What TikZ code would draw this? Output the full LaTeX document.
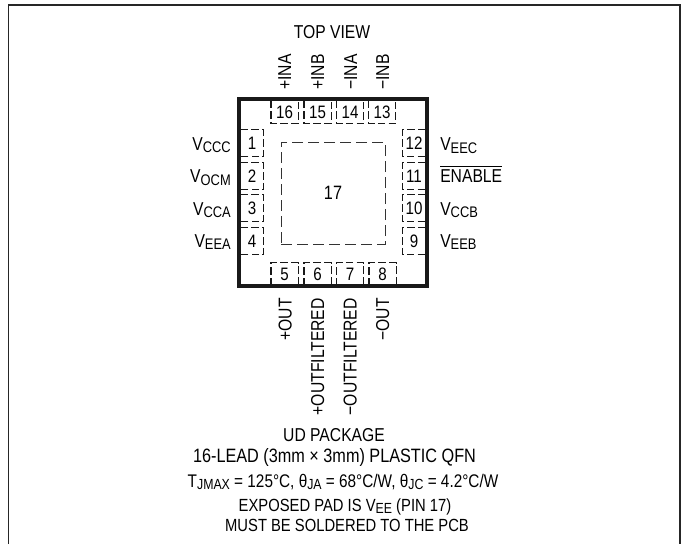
\documentclass[tikz,border=0pt]{standalone}
\usepackage{fontspec}
\setmainfont[FakeStretch=0.84]{Liberation Sans}
\newcommand{\lowsub}[1]{\raisebox{-2.2pt}{\fontsize{11.5}{11.5}\selectfont #1}}
\newcommand{\lowsubs}[1]{\raisebox{-2pt}{\fontsize{11}{11}\selectfont #1}}
\tikzset{
  pkgbox/.style={draw=black!90,line width=3pt,minimum width=141pt,minimum height=140pt,inner sep=0pt},
  padbox/.style={draw=black!80,line width=0.75pt,dash pattern=on 8.5pt off 3.5pt,minimum width=78pt,minimum height=76.5pt,inner sep=0pt,font=\fontsize{14.5}{14.5}\selectfont},
  pinv/.style={minimum width=20pt,minimum height=16.5pt,inner sep=0pt,font=\fontsize{13.5}{13.5}\selectfont},
  pinh/.style={minimum width=16.5pt,minimum height=19.5pt,inner sep=0pt,font=\fontsize{13.5}{13.5}\selectfont},
  pinedge/.style={draw=black!90,line width=0.9pt,dash pattern=on 5.5pt off 2.5pt},
  lblup/.style={rotate=90,anchor=base west,inner sep=0pt,font=\fontsize{14}{14}\selectfont},
  lbldown/.style={rotate=90,anchor=base east,inner sep=0pt,font=\fontsize{14}{14}\selectfont},
  lblleft/.style={anchor=base east,inner sep=0pt,font=\fontsize{14}{14}\selectfont},
  lblright/.style={anchor=base west,inner sep=0pt,font=\fontsize{14}{14}\selectfont},
  capbig/.style={anchor=base,inner sep=0pt,font=\fontsize{14}{14}\selectfont},
  capsmall/.style={anchor=base,inner sep=0pt,font=\fontsize{13.2}{13.2}\selectfont},
}
\begin{document}
\begin{tikzpicture}[x=0.75pt,y=-0.75pt]
  \useasboundingbox (0,0) rectangle (684,544);
  \draw[black!85,line width=1.2pt] (8.5,544) -- (8.5,5) -- (680,5) -- (680,544);

  \node[pkgbox] (pkg) at (333,192.75) {};
  \node[padbox] (pad) at (333,193) {17};

  % top row
  \node[pinv] (p16) at (284.5,112) {16};
  \node[pinv] (p15) at (317.5,112) {15};
  \node[pinv] (p14) at (350,112) {14};
  \node[pinv] (p13) at (382,112) {13};
  % left column
  \node[pinh] (p1) at (252,143) {1};
  \node[pinh] (p2) at (252,176) {2};
  \node[pinh] (p3) at (252,208) {3};
  \node[pinh] (p4) at (252,241) {4};
  % right column
  \node[pinh] (p12) at (414,143) {12};
  \node[pinh] (p11) at (414,176) {11};
  \node[pinh] (p10) at (414,208) {10};
  \node[pinh] (p9) at (414,241) {9};
  % bottom row
  \node[pinv] (p5) at (284.5,274) {5};
  \node[pinv] (p6) at (317.5,274) {6};
  \node[pinv] (p7) at (350,274) {7};
  \node[pinv] (p8) at (382.5,274) {8};

  \draw[pinedge] (p16.north west) -- (p16.south west) -- (p16.south east) -- (p16.north east);
  \draw[pinedge] (p15.north west) -- (p15.south west) -- (p15.south east) -- (p15.north east);
  \draw[pinedge] (p14.north west) -- (p14.south west) -- (p14.south east) -- (p14.north east);
  \draw[pinedge] (p13.north west) -- (p13.south west) -- (p13.south east) -- (p13.north east);
  \draw[pinedge] (p1.north west) -- (p1.north east) -- (p1.south east) -- (p1.south west);
  \draw[pinedge] (p2.north west) -- (p2.north east) -- (p2.south east) -- (p2.south west);
  \draw[pinedge] (p3.north west) -- (p3.north east) -- (p3.south east) -- (p3.south west);
  \draw[pinedge] (p4.north west) -- (p4.north east) -- (p4.south east) -- (p4.south west);
  \draw[pinedge] (p12.north east) -- (p12.north west) -- (p12.south west) -- (p12.south east);
  \draw[pinedge] (p11.north east) -- (p11.north west) -- (p11.south west) -- (p11.south east);
  \draw[pinedge] (p10.north east) -- (p10.north west) -- (p10.south west) -- (p10.south east);
  \draw[pinedge] (p9.north east) -- (p9.north west) -- (p9.south west) -- (p9.south east);
  \draw[pinedge] (p5.south west) -- (p5.north west) -- (p5.north east) -- (p5.south east);
  \draw[pinedge] (p6.south west) -- (p6.north west) -- (p6.north east) -- (p6.south east);
  \draw[pinedge] (p7.south west) -- (p7.north west) -- (p7.north east) -- (p7.south east);
  \draw[pinedge] (p8.south west) -- (p8.north west) -- (p8.north east) -- (p8.south east);

  \node[capbig] (topview) at (332,38) {TOP VIEW};
  \node[lblup] (inap) at (291,90) {+INA};
  \node[lblup] (inbp) at (324,90) {+INB};
  \node[lblup] (inan) at (357,90) {−INA};
  \node[lblup] (inbn) at (389,90) {−INB};

  \node[lblleft] (vccc) at (231,150) {V\lowsub{CCC}};
  \node[lblleft] (vocm) at (231,182.5) {V\lowsub{OCM}};
  \node[lblleft] (vcca) at (231,215) {V\lowsub{CCA}};
  \node[lblleft] (veea) at (231,247) {V\lowsub{EEA}};

  \node[lblright] (veec) at (440,150.5) {V\lowsub{EEC}};
  \node[lblright] (enable) at (440,182.5) {$\overline{\hbox{\rule{0pt}{11pt}ENABLE}}$};
  \node[lblright] (vccb) at (440,215) {V\lowsub{CCB}};
  \node[lblright] (veeb) at (440,247) {V\lowsub{EEB}};

  \node[lbldown] (outp) at (291.5,298) {+OUT};
  \node[lbldown] (ofp) at (324,298) {+OUTFILTERED};
  \node[lbldown] (ofn) at (356.5,298) {−OUTFILTERED};
  \node[lbldown] (outn) at (389,298) {−OUT};

  \node[capbig] (cap1) at (334,441) {UD PACKAGE};
  \node[capbig,font=\fontsize{14.5}{14.5}\selectfont] (cap2) at (334.5,462) {16-LEAD (3mm × 3mm) PLASTIC QFN};
  \node[capsmall,font=\fontsize{13.7}{13.7}\selectfont] (cap3) at (343,487) {T\lowsubs{JMAX} = 125°C, θ\lowsubs{JA} = 68°C/W, θ\lowsubs{JC} = 4.2°C/W};
  \node[capsmall] (cap4) at (345,511) {EXPOSED PAD IS V\lowsubs{EE} (PIN 17)};
  \node[capsmall] (cap5) at (347,531) {MUST BE SOLDERED TO THE PCB};
\end{tikzpicture}
\end{document}
